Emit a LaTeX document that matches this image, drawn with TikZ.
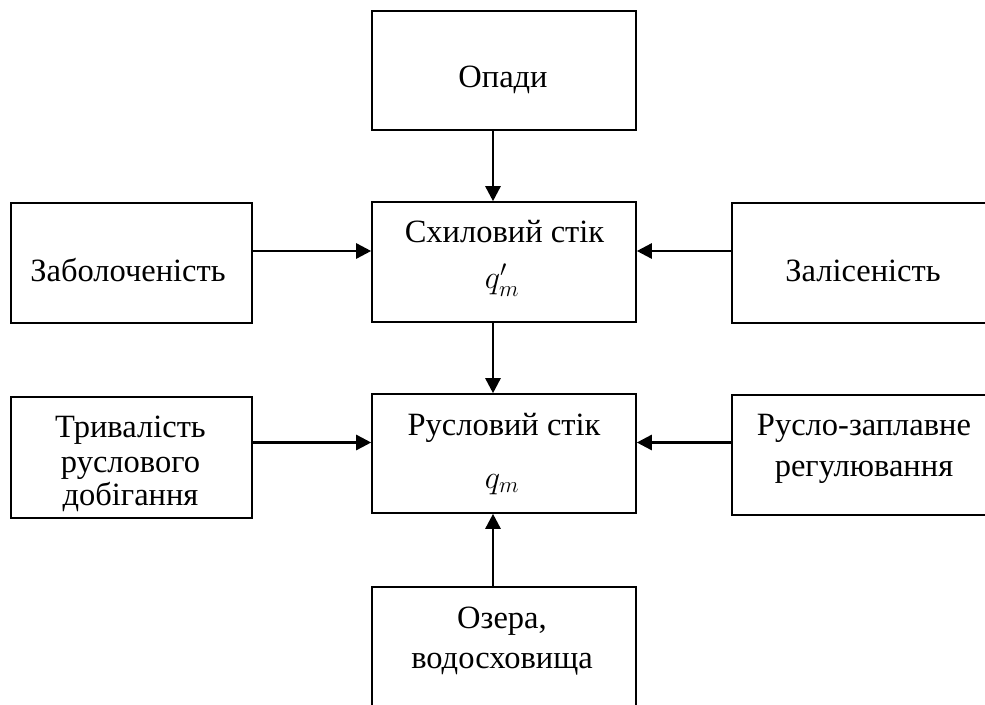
\documentclass[tikz,border=0pt]{standalone}
\usepackage{fix-cm}
\usepackage{fontspec}
\setmainfont{Liberation Serif}
\usetikzlibrary{arrows.meta}
\begin{document}
\begin{tikzpicture}[x=1pt,y=-1pt,
  box/.style={draw=black, line width=1.6pt, rectangle, inner sep=0pt, fill=none},
  txt/.style={anchor=base, inner sep=0pt, font=\fontsize{32.5}{36}\selectfont},
  arr/.style={line width=2.6pt, -{Triangle[length=15pt,width=15pt]}}]
\useasboundingbox (0,0) rectangle (985,704);
\clip (0,0) rectangle (985,704);
% boxes
\node[box, minimum width=264pt, minimum height=119pt] (op)  at (504,70.5) {};
\node[box, minimum width=264pt, minimum height=120pt] (sx)  at (504,262) {};
\node[box, minimum width=241pt, minimum height=120pt] (zab) at (131.5,263) {};
\node[box, minimum width=262pt, minimum height=120pt] (zal) at (863,263) {};
\node[box, minimum width=264pt, minimum height=119pt] (rus) at (504,453.5) {};
\node[box, minimum width=241pt, minimum height=121pt] (tr)  at (131.5,457.5) {};
\node[box, minimum width=262pt, minimum height=120pt] (rz)  at (863,455) {};
\node[box, minimum width=264pt, minimum height=130pt] (oz)  at (504,652) {};
% texts
\node[txt] (tOp)  at (503,87) {Опади};
\node[txt] (tSx)  at (504.5,242) {Схиловий стік};
\node[txt] (tSxq) at (502,288) {$q'_m$};
\node[txt] (tZab) at (128,281) {Заболоченість};
\node[txt] (tZal) at (863,281) {Залісеність};
\node[txt] (tRus) at (504,435) {Русловий стік};
\node[txt] (tRusq) at (502,488) {$q_m$};
\node[txt] (tTr1) at (130.5,437) {Тривалість};
\node[txt] (tTr2) at (130.5,472) {руслового};
\node[txt] (tTr3) at (130.5,505) {добігання};
\node[txt] (tRz1) at (864,435) {Русло-заплавне};
\node[txt] (tRz2) at (864,476) {регулювання};
\node[txt] (tOz1) at (502,628) {Озера,};
\node[txt] (tOz2) at (502,668) {водосховища};
% connectors
\coordinate (ax) at (493,0);
\draw[arr] (op.south -| ax) -- (sx.north -| ax);
\draw[arr] (sx.south -| ax) -- (rus.north -| ax);
\draw[arr] (oz.north -| ax) -- (rus.south -| ax);
\coordinate (ay1) at (0,251);
\coordinate (ay2) at (0,442.5);
\draw[arr] (zab.east |- ay1) -- (sx.west |- ay1);
\draw[arr] (zal.west |- ay1) -- (sx.east |- ay1);
\draw[arr] (tr.east |- ay2) -- (rus.west |- ay2);
\draw[arr] (rz.west |- ay2) -- (rus.east |- ay2);
\end{tikzpicture}
\end{document}
